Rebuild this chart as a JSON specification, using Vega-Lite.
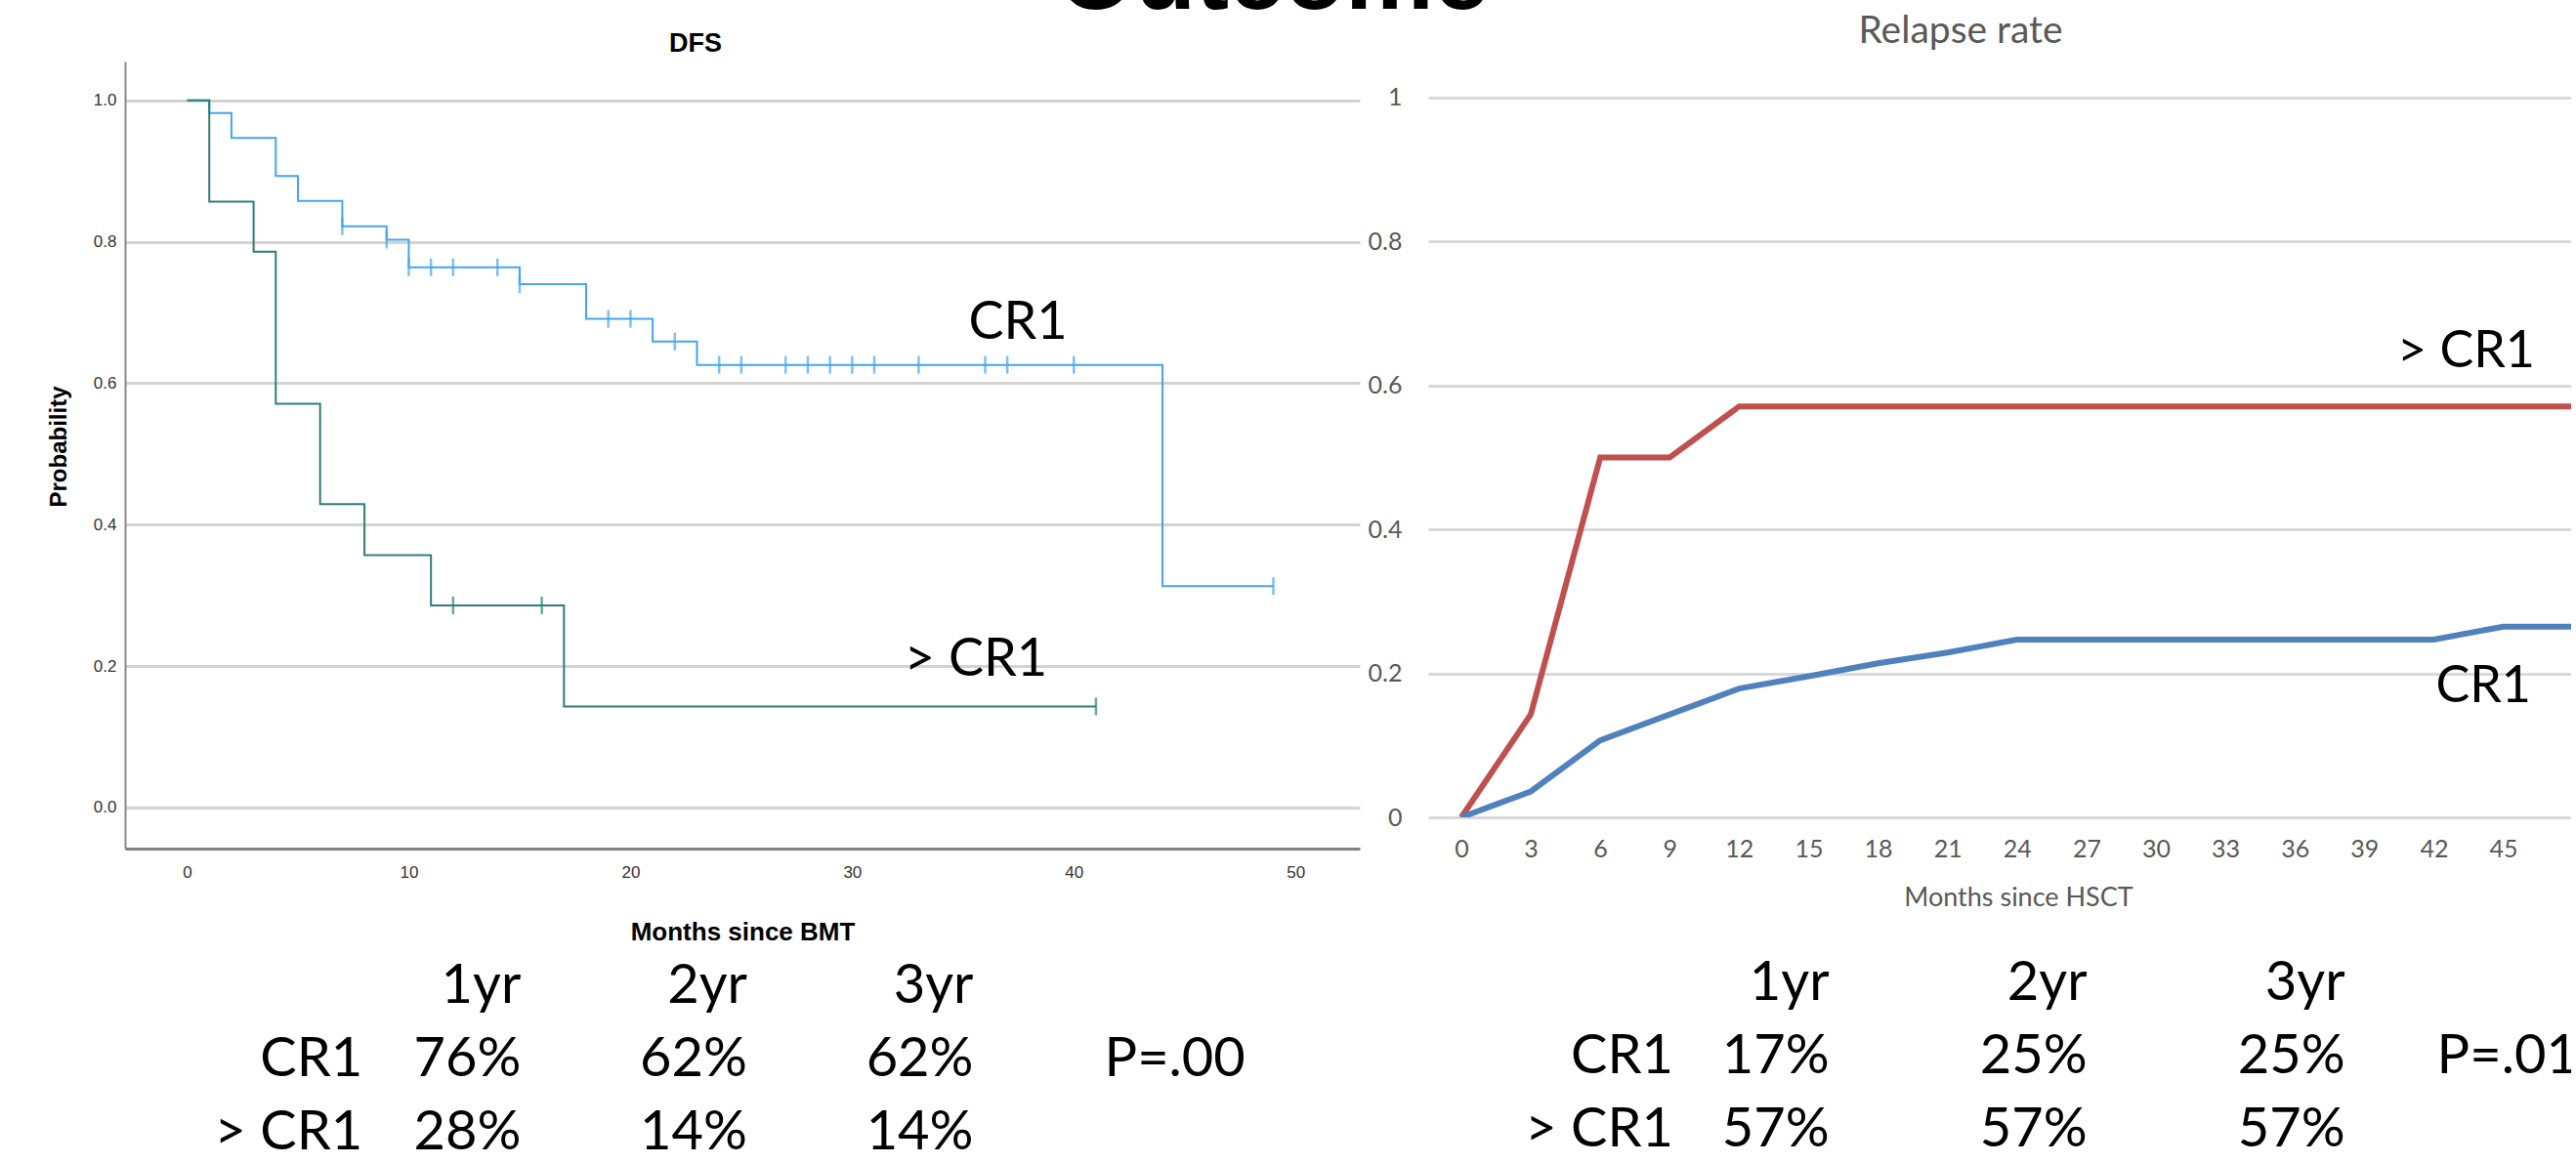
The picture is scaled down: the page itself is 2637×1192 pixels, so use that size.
{
  "$schema": "https://vega.github.io/schema/vega-lite/v6.json",
  "background": "white",
  "padding": {"left": 48, "top": 0, "right": 0, "bottom": 0},
  "config": {"view": {"stroke": null}, "font": "Lato"},
  "datasets": {
    "dfs": [
      {"group": "CR1", "month": 0, "prob": 1.0},
      {"group": "CR1", "month": 1, "prob": 0.982},
      {"group": "CR1", "month": 2, "prob": 0.947},
      {"group": "CR1", "month": 4, "prob": 0.893},
      {"group": "CR1", "month": 5, "prob": 0.858},
      {"group": "CR1", "month": 7, "prob": 0.822},
      {"group": "CR1", "month": 9, "prob": 0.803},
      {"group": "CR1", "month": 10, "prob": 0.764},
      {"group": "CR1", "month": 15, "prob": 0.74},
      {"group": "CR1", "month": 18, "prob": 0.691},
      {"group": "CR1", "month": 21, "prob": 0.659},
      {"group": "CR1", "month": 23, "prob": 0.626},
      {"group": "CR1", "month": 44, "prob": 0.313},
      {"group": "CR1", "month": 49, "prob": 0.313},
      {"group": "> CR1", "month": 0, "prob": 1.0},
      {"group": "> CR1", "month": 1, "prob": 0.857},
      {"group": "> CR1", "month": 3, "prob": 0.786},
      {"group": "> CR1", "month": 4, "prob": 0.571},
      {"group": "> CR1", "month": 6, "prob": 0.429},
      {"group": "> CR1", "month": 8, "prob": 0.357},
      {"group": "> CR1", "month": 11, "prob": 0.286},
      {"group": "> CR1", "month": 17, "prob": 0.143},
      {"group": "> CR1", "month": 41, "prob": 0.143}
    ],
    "dfsCensor": [
      {"group": "CR1", "month": 7, "prob": 0.822},
      {"group": "CR1", "month": 9, "prob": 0.803},
      {"group": "CR1", "month": 10, "prob": 0.764},
      {"group": "CR1", "month": 11, "prob": 0.764},
      {"group": "CR1", "month": 12, "prob": 0.764},
      {"group": "CR1", "month": 14, "prob": 0.764},
      {"group": "CR1", "month": 15, "prob": 0.74},
      {"group": "CR1", "month": 19, "prob": 0.691},
      {"group": "CR1", "month": 20, "prob": 0.691},
      {"group": "CR1", "month": 22, "prob": 0.659},
      {"group": "CR1", "month": 24, "prob": 0.626},
      {"group": "CR1", "month": 25, "prob": 0.626},
      {"group": "CR1", "month": 27, "prob": 0.626},
      {"group": "CR1", "month": 28, "prob": 0.626},
      {"group": "CR1", "month": 29, "prob": 0.626},
      {"group": "CR1", "month": 30, "prob": 0.626},
      {"group": "CR1", "month": 31, "prob": 0.626},
      {"group": "CR1", "month": 33, "prob": 0.626},
      {"group": "CR1", "month": 36, "prob": 0.626},
      {"group": "CR1", "month": 37, "prob": 0.626},
      {"group": "CR1", "month": 40, "prob": 0.626},
      {"group": "CR1", "month": 49, "prob": 0.313},
      {"group": "> CR1", "month": 12, "prob": 0.286},
      {"group": "> CR1", "month": 16, "prob": 0.286},
      {"group": "> CR1", "month": 41, "prob": 0.143}
    ],
    "dfsLabels": [
      {"text": "CR1", "month": 37.48, "prob": 0.663},
      {"text": "> CR1", "month": 35.58, "prob": 0.1865}
    ],
    "relapse": [
      {"group": "> CR1", "month": 0, "rate": 0},
      {"group": "> CR1", "month": 3, "rate": 0.143},
      {"group": "> CR1", "month": 6, "rate": 0.5},
      {"group": "> CR1", "month": 9, "rate": 0.5},
      {"group": "> CR1", "month": 12, "rate": 0.571},
      {"group": "> CR1", "month": 15, "rate": 0.571},
      {"group": "> CR1", "month": 18, "rate": 0.571},
      {"group": "> CR1", "month": 21, "rate": 0.571},
      {"group": "> CR1", "month": 24, "rate": 0.571},
      {"group": "> CR1", "month": 27, "rate": 0.571},
      {"group": "> CR1", "month": 30, "rate": 0.571},
      {"group": "> CR1", "month": 33, "rate": 0.571},
      {"group": "> CR1", "month": 36, "rate": 0.571},
      {"group": "> CR1", "month": 39, "rate": 0.571},
      {"group": "> CR1", "month": 42, "rate": 0.571},
      {"group": "> CR1", "month": 45, "rate": 0.571},
      {"group": "> CR1", "month": 48, "rate": 0.571},
      {"group": "CR1", "month": 0, "rate": 0},
      {"group": "CR1", "month": 3, "rate": 0.036},
      {"group": "CR1", "month": 6, "rate": 0.107},
      {"group": "CR1", "month": 9, "rate": 0.143},
      {"group": "CR1", "month": 12, "rate": 0.179},
      {"group": "CR1", "month": 15, "rate": 0.196},
      {"group": "CR1", "month": 18, "rate": 0.214},
      {"group": "CR1", "month": 21, "rate": 0.229},
      {"group": "CR1", "month": 24, "rate": 0.247},
      {"group": "CR1", "month": 27, "rate": 0.247},
      {"group": "CR1", "month": 30, "rate": 0.247},
      {"group": "CR1", "month": 33, "rate": 0.247},
      {"group": "CR1", "month": 36, "rate": 0.247},
      {"group": "CR1", "month": 39, "rate": 0.247},
      {"group": "CR1", "month": 42, "rate": 0.247},
      {"group": "CR1", "month": 45, "rate": 0.265},
      {"group": "CR1", "month": 48, "rate": 0.265}
    ],
    "relapseLabels": [
      {"text": "> CR1", "month": 46.37, "rate": 0.6255},
      {"text": "CR1", "month": 46.2, "rate": 0.16}
    ],
    "tables": [
      {"table": "DFS", "row": "header", "col": "1yr", "text": "1yr"},
      {"table": "DFS", "row": "header", "col": "2yr", "text": "2yr"},
      {"table": "DFS", "row": "header", "col": "3yr", "text": "3yr"},
      {"table": "DFS", "row": "CR1", "col": "label", "text": "CR1"},
      {"table": "DFS", "row": "CR1", "col": "1yr", "text": "76%"},
      {"table": "DFS", "row": "CR1", "col": "2yr", "text": "62%"},
      {"table": "DFS", "row": "CR1", "col": "3yr", "text": "62%"},
      {"table": "DFS", "row": "CR1", "col": "p", "text": "P=.00"},
      {"table": "DFS", "row": "> CR1", "col": "label", "text": "> CR1"},
      {"table": "DFS", "row": "> CR1", "col": "1yr", "text": "28%"},
      {"table": "DFS", "row": "> CR1", "col": "2yr", "text": "14%"},
      {"table": "DFS", "row": "> CR1", "col": "3yr", "text": "14%"},
      {"table": "Relapse", "row": "header", "col": "1yr", "text": "1yr"},
      {"table": "Relapse", "row": "header", "col": "2yr", "text": "2yr"},
      {"table": "Relapse", "row": "header", "col": "3yr", "text": "3yr"},
      {"table": "Relapse", "row": "CR1", "col": "label", "text": "CR1"},
      {"table": "Relapse", "row": "CR1", "col": "1yr", "text": "17%"},
      {"table": "Relapse", "row": "CR1", "col": "2yr", "text": "25%"},
      {"table": "Relapse", "row": "CR1", "col": "3yr", "text": "25%"},
      {"table": "Relapse", "row": "CR1", "col": "p", "text": "P=.01"},
      {"table": "Relapse", "row": "> CR1", "col": "label", "text": "> CR1"},
      {"table": "Relapse", "row": "> CR1", "col": "1yr", "text": "57%"},
      {"table": "Relapse", "row": "> CR1", "col": "2yr", "text": "57%"},
      {"table": "Relapse", "row": "> CR1", "col": "3yr", "text": "57%"}
    ]
  },
  "spacing": 2,
  "vconcat": [
    {
      "width": 2351,
      "height": 11,
      "data": {"values": [{"title": "Outcome"}]},
      "mark": {"type": "text", "clip": true, "font": "Liberation Sans", "fontWeight": "bold", "fontSize": 102, "align": "center", "baseline": "alphabetic", "dy": -2, "color": "black"},
      "encoding": {
        "x": {"datum": 0.5, "type": "quantitative", "scale": {"domain": [0, 1]}, "axis": null},
        "y": {"datum": 0, "type": "quantitative", "scale": {"domain": [0, 1]}, "axis": null},
        "text": {"field": "title"}
      }
    },
    {
      "columns": 2,
      "align": "each",
      "spacing": {"row": 12, "column": 8},
      "resolve": {"scale": {"color": "independent"}},
      "concat": [
        {
          "width": 1264,
          "height": 806,
          "title": {"text": "DFS", "font": "Liberation Sans", "fontSize": 27, "fontWeight": "bold", "color": "black", "baseline": "alphabetic", "offset": -17, "dx": -48, "anchor": "middle"},
          "encoding": {
            "x": {
              "field": "month", "type": "quantitative",
              "scale": {"domain": [-2.8, 52.9], "nice": false, "zero": false},
              "axis": {
                "title": "Months since BMT", "values": [0, 10, 20, 30, 40, 50], "grid": false,
                "ticks": false, "tickSize": 0, "domainColor": "#808080", "domainWidth": 3,
                "labelFont": "Liberation Sans", "labelFontSize": 17, "labelColor": "#333333",
                "labelPadding": 29, "labelBaseline": "alphabetic",
                "titleFont": "Liberation Sans", "titleFontSize": 26, "titleFontWeight": "bold", "titleColor": "black",
                "titleBaseline": "alphabetic", "titleX": 632, "titleY": 93
              }
            },
            "y": {
              "field": "prob", "type": "quantitative",
              "scale": {"domain": [-0.058, 1.055], "nice": false, "zero": false},
              "axis": {
                "title": "Probability", "values": [0, 0.2, 0.4, 0.6, 0.8, 1.0], "format": ".1f",
                "grid": true, "gridColor": "#d3d3d3", "gridWidth": 3,
                "ticks": false, "tickSize": 0, "domainColor": "#8a8a8a", "domainWidth": 2,
                "labelFont": "Liberation Sans", "labelFontSize": 17, "labelColor": "#333333", "labelPadding": 9,
                "titleFont": "Liberation Sans", "titleFontSize": 24, "titleFontWeight": "bold", "titleColor": "black",
                "titleAngle": -90, "titleBaseline": "alphabetic", "titleAlign": "center", "titleX": -60.5, "titleY": 394
              }
            }
          },
          "layer": [
            {
              "data": {"name": "dfs"},
              "mark": {"type": "line", "interpolate": "step-after", "strokeWidth": 2, "clip": true},
              "encoding": {
                "color": {"field": "group", "type": "nominal", "scale": {"domain": ["CR1", "> CR1"], "range": ["#45A5EC", "#2E7E78"]}, "legend": null}
              }
            },
            {
              "data": {"name": "dfsCensor"},
              "mark": {"type": "tick", "orient": "vertical", "size": 18, "thickness": 2.5},
              "encoding": {
                "color": {"field": "group", "type": "nominal", "legend": null}
              }
            },
            {
              "data": {"name": "dfsLabels"},
              "mark": {"type": "text", "font": "Lato", "fontSize": 54, "align": "center", "baseline": "alphabetic", "color": "black"},
              "encoding": {"text": {"field": "text"}}
            }
          ]
        },
        {
          "width": 1170,
          "height": 774,
          "title": {"text": "Relapse rate", "font": "Lato", "fontSize": 39, "fontWeight": "normal", "color": "#595959", "baseline": "alphabetic", "offset": -20, "dx": -40, "anchor": "middle"},
          "encoding": {
            "x": {
              "field": "month", "type": "quantitative",
              "scale": {"domain": [-1.43, 47.93], "nice": false, "zero": false},
              "axis": {
                "title": "Months since HSCT", "values": [0, 3, 6, 9, 12, 15, 18, 21, 24, 27, 30, 33, 36, 39, 42, 45],
                "grid": false, "domain": false, "ticks": false, "tickSize": 0,
                "labelFont": "Lato", "labelFontSize": 25, "labelColor": "#595959", "labelPadding": 40, "labelBaseline": "alphabetic",
                "titleFont": "Lato", "titleFontSize": 27, "titleFontWeight": "normal", "titleColor": "#595959",
                "titleBaseline": "alphabetic", "titleX": 604, "titleY": 90
              }
            },
            "y": {
              "field": "rate", "type": "quantitative",
              "scale": {"domain": [0, 1.0502], "nice": false, "zero": false},
              "axis": {
                "title": null, "values": [0, 0.2, 0.4, 0.6, 0.8, 1], "format": "~g",
                "grid": true, "gridColor": "#d9d9d9", "gridWidth": 3,
                "domain": false, "ticks": false, "tickSize": 0,
                "labelFont": "Lato", "labelFontSize": 25, "labelColor": "#595959", "labelPadding": 27
              }
            }
          },
          "layer": [
            {
              "data": {"name": "relapse"},
              "mark": {"type": "line", "strokeWidth": 6, "clip": true},
              "encoding": {
                "color": {"field": "group", "type": "nominal", "scale": {"domain": ["> CR1", "CR1"], "range": ["#C0504D", "#4F81BD"]}, "legend": null}
              }
            },
            {
              "data": {"name": "relapseLabels"},
              "mark": {"type": "text", "font": "Lato", "fontSize": 52, "align": "right", "baseline": "alphabetic", "color": "black"},
              "encoding": {"text": {"field": "text"}}
            }
          ]
        },
        {
          "width": 1158,
          "height": 210,
          "data": {"name": "tables"},
          "transform": [{"filter": "datum.table === 'DFS'"}],
          "encoding": {
            "y": {"field": "row", "type": "nominal", "scale": {"type": "point", "domain": ["header", "CR1", "> CR1"], "padding": 0.4, "align": 0.8}, "axis": null}
          },
          "layer": [
            {
              "transform": [{"filter": "datum.col !== 'label' && datum.col !== 'p'"}],
              "mark": {"type": "text", "font": "Lato", "fontSize": 56, "align": "right", "baseline": "alphabetic", "color": "black", "clip": true},
              "encoding": {
                "x": {"field": "col", "type": "nominal", "scale": {"type": "band", "domain": ["1yr", "2yr", "3yr"], "paddingInner": 0, "paddingOuter": 1, "align": 0.625}, "axis": null},
                "text": {"field": "text"}
              }
            },
            {
              "transform": [{"filter": "datum.col === 'label'"}],
              "mark": {"type": "text", "font": "Lato", "fontSize": 56, "align": "right", "baseline": "alphabetic", "color": "black", "dx": -162, "clip": true},
              "encoding": {
                "x": {"datum": "1yr", "type": "nominal"},
                "text": {"field": "text"}
              }
            },
            {
              "transform": [{"filter": "datum.col === 'p'"}],
              "mark": {"type": "text", "font": "Lato", "fontSize": 56, "align": "left", "baseline": "alphabetic", "color": "black", "dx": 134, "clip": true},
              "encoding": {
                "x": {"datum": "3yr", "type": "nominal"},
                "text": {"field": "text"}
              }
            }
          ]
        },
        {
          "width": 1170,
          "height": 210,
          "data": {"name": "tables"},
          "transform": [{"filter": "datum.table === 'Relapse'"}],
          "encoding": {
            "y": {"field": "row", "type": "nominal", "scale": {"type": "point", "domain": ["header", "CR1", "> CR1"], "padding": 0.4, "align": 0.75}, "axis": null}
          },
          "layer": [
            {
              "transform": [{"filter": "datum.col !== 'label' && datum.col !== 'p'"}],
              "mark": {"type": "text", "font": "Lato", "fontSize": 56, "align": "right", "baseline": "alphabetic", "color": "black", "clip": true},
              "encoding": {
                "x": {"field": "col", "type": "nominal", "scale": {"type": "band", "domain": ["1yr", "2yr", "3yr"], "paddingInner": 0, "paddingOuter": 0.716, "align": 0.737}, "axis": null},
                "text": {"field": "text"}
              }
            },
            {
              "transform": [{"filter": "datum.col === 'label'"}],
              "mark": {"type": "text", "font": "Lato", "fontSize": 56, "align": "right", "baseline": "alphabetic", "color": "black", "dx": -159.5, "clip": true},
              "encoding": {
                "x": {"datum": "1yr", "type": "nominal"},
                "text": {"field": "text"}
              }
            },
            {
              "transform": [{"filter": "datum.col === 'p'"}],
              "mark": {"type": "text", "font": "Lato", "fontSize": 56, "align": "left", "baseline": "alphabetic", "color": "black", "dx": 94, "clip": true},
              "encoding": {
                "x": {"datum": "3yr", "type": "nominal"},
                "text": {"field": "text"}
              }
            }
          ]
        }
      ]
    }
  ]
}
